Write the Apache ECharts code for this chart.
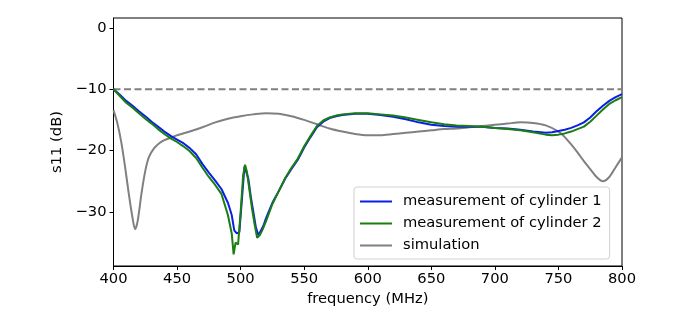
<!DOCTYPE html>
<html><head><meta charset="utf-8">
<script src="https://cdn.jsdelivr.net/npm/echarts@6/dist/echarts.min.js"></script>
<style>html,body{margin:0;padding:0;background:#fff}#c{width:699px;height:331px}</style>
</head><body><div id="c"></div>
<script>
const xTicks = [400,450,500,550,600,650,700,750,800];
const yTicks = [0,-10,-20,-30];
const m1Freq = [400,405,410,415,420,425,430,435,440,445,450,455,460,465,470,475,480,485,490,493,495,497,499,501,503,504,506,508,510,512,514,516,518,520,525,530,535,540,545,550,555,560,565,570,575,580,590,600,610,620,630,640,650,660,670,680,690,700,710,720,730,740,745,750,755,760,765,770,775,780,785,790,795,800];
const m1Val = [-10.0,-10.9,-11.9,-12.7,-13.6,-14.4,-15.3,-16.1,-16.9,-17.6,-18.2,-18.8,-19.6,-20.6,-22.2,-23.6,-24.9,-26.3,-28.5,-30.5,-33.0,-33.5,-33.3,-28.0,-22.6,-22.5,-24.5,-27.5,-30.0,-32.5,-33.8,-33.0,-32.2,-31.0,-28.5,-26.6,-24.6,-23.0,-21.5,-19.5,-17.8,-16.2,-15.3,-14.7,-14.4,-14.2,-14.0,-14.0,-14.2,-14.5,-14.9,-15.4,-15.8,-16.0,-16.1,-16.1,-16.1,-16.3,-16.4,-16.6,-16.9,-17.1,-17.0,-16.8,-16.6,-16.3,-15.9,-15.4,-14.6,-13.6,-12.7,-11.9,-11.3,-10.8];
const m2Freq = [400,405,410,415,420,425,430,435,440,445,450,455,460,465,470,475,480,485,490,493,494.5,496,498,500,502,503.5,505,507,509,511,513,515,517,520,525,530,535,540,545,550,555,560,565,570,575,580,590,600,610,620,630,640,650,660,670,680,690,700,710,720,730,740,745,750,755,760,765,770,775,780,785,790,795,800];
const m2Val = [-10.0,-11.1,-12.2,-13.0,-13.9,-14.8,-15.6,-16.5,-17.3,-18.0,-18.6,-19.3,-20.1,-21.2,-22.8,-24.3,-25.6,-27.1,-30.5,-33.5,-36.9,-35.0,-35.3,-30.0,-24.0,-22.3,-23.5,-26.5,-29.5,-32.0,-34.2,-33.8,-33.0,-31.5,-28.7,-26.6,-24.5,-22.8,-21.3,-19.3,-17.6,-16.0,-15.1,-14.6,-14.3,-14.1,-13.9,-13.9,-14.1,-14.3,-14.6,-15.0,-15.4,-15.7,-15.9,-16.0,-16.1,-16.3,-16.5,-16.7,-17.0,-17.4,-17.5,-17.4,-17.2,-16.9,-16.5,-16.1,-15.3,-14.3,-13.3,-12.4,-11.8,-11.3];
const simFreq = [400,403,406,409,412,415,417,419,422,425,428,432,436,440,445,450,460,470,480,490,500,510,520,530,540,550,560,570,580,590,600,610,620,630,640,650,660,670,680,690,700,710,720,730,740,750,755,760,765,770,775,780,785,790,795,800];
const simVal = [-13.4,-15.5,-18.5,-22.5,-27.0,-31.0,-32.8,-31.5,-27.0,-23.3,-21.0,-19.6,-18.8,-18.3,-17.9,-17.5,-16.9,-16.2,-15.4,-14.8,-14.4,-14.1,-13.9,-14.0,-14.4,-15.0,-15.7,-16.4,-16.9,-17.3,-17.5,-17.5,-17.3,-17.1,-16.9,-16.7,-16.5,-16.4,-16.2,-16.0,-15.8,-15.6,-15.4,-15.5,-15.9,-16.9,-17.8,-19.0,-20.3,-21.7,-23.0,-24.3,-25.0,-24.3,-22.7,-21.1];
const refFreq = [400,800];
const refVal = [-10,-10];
const names = ['measurement of cylinder 1','measurement of cylinder 2','simulation'];

const zip = (a,b)=>a.map((v,i)=>[v,b[i]]);
const font = 'DejaVu Sans';
const fs = 14.7;
const chart = echarts.init(document.getElementById('c'), null, {renderer:'canvas'});
chart.setOption({
  animation:false,
  backgroundColor:'#fff',
  grid:{left:113.5,right:77,top:18,bottom:65,show:true,borderColor:'#000',borderWidth:1,backgroundColor:'transparent'},
  xAxis:{type:'value',min:400,max:800,interval:50,
    name:'frequency (MHz)',nameLocation:'middle',nameGap:25,
    nameTextStyle:{fontFamily:font,fontSize:fs,color:'#000'},
    axisLine:{show:true,onZero:false,lineStyle:{color:'#000',width:1}},
    axisTick:{show:true,inside:false,length:4,lineStyle:{color:'#000'}},
    axisLabel:{fontFamily:font,fontSize:fs,color:'#000',margin:6},
    splitLine:{show:false}},
  yAxis:{type:'value',min:-38.8,max:1.6,
    name:'s11 (dB)',nameLocation:'middle',nameGap:45,nameRotate:90,
    nameTextStyle:{fontFamily:font,fontSize:fs,color:'#000'},
    axisLine:{show:true,onZero:false,lineStyle:{color:'#000',width:1}},
    axisTick:{show:true,inside:false,length:4,lineStyle:{color:'#000'},customValues:yTicks},
    axisLabel:{fontFamily:font,fontSize:fs,color:'#000',margin:7,customValues:yTicks,
      formatter:v=>String(v).replace('-','\u2212')},
    splitLine:{show:false}},
  legend:{data:names,orient:'vertical',left:354,top:187,itemWidth:32,itemHeight:2,icon:'rect',
    itemGap:7,padding:[7,8,6,6],
    backgroundColor:'rgba(255,255,255,0.85)',borderColor:'#d0d0d0',borderWidth:1,borderRadius:3,
    textStyle:{fontFamily:font,fontSize:fs,color:'#000',padding:[0,0,0,6]}},
  series:[
    {name:'ref',type:'line',data:zip(refFreq,refVal),symbol:'none',silent:true,
      lineStyle:{color:'#808080',width:2,type:[7,3.5]},z:1},
    {name:names[2],type:'line',data:zip(simFreq,simVal),symbol:'none',smooth:0.3,
      lineStyle:{color:'#808080',width:2},itemStyle:{color:'#808080'},z:2},
    {name:names[0],type:'line',data:zip(m1Freq,m1Val),symbol:'none',
      lineStyle:{color:'#0a1fe6',width:2},itemStyle:{color:'#0a1fe6'},z:3},
    {name:names[1],type:'line',data:zip(m2Freq,m2Val),symbol:'none',
      lineStyle:{color:'#1a7d12',width:2},itemStyle:{color:'#1a7d12'},z:4}
  ]
});
</script></body></html>
